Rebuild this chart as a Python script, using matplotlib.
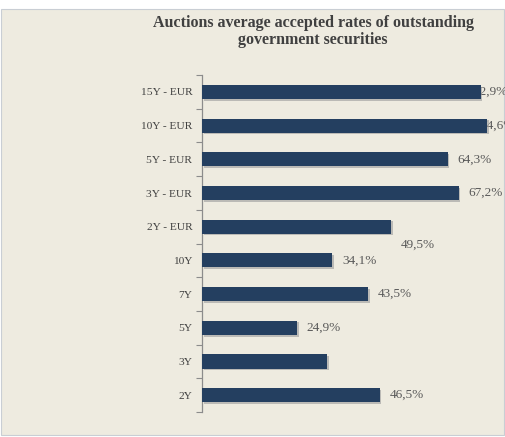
import matplotlib.pyplot as plt
import matplotlib.patheffects as pe
import numpy as np

# data (top to bottom)
categories = ['15Y - EUR', '10Y - EUR', '5Y - EUR', '3Y - EUR', '2Y - EUR',
              '10Y', '7Y', '5Y', '3Y', '2Y']
rates = [72.9, 74.6, 64.3, 67.2, 49.5, 34.1, 43.5, 24.9, 32.7, 46.5]
labels = ['72,9%', '74,6%', '64,3%', '67,2%', '49,5%',
          '34,1%', '43,5%', '24,9%', '', '46,5%']
title = 'Auctions average accepted rates of outstanding\ngovernment securities'

# label offsets in points (the source chart shifted a few of them)
lab_dx = [-5, -5, 7, 7, 7, 7, 7, 7, 7, 7]
lab_dy = [0, 0, 0, 0, -13, 0, 0, 0, 0, 0]

bg = '#EEEBE0'
bar_col = '#243F60'
txt_col = '#595959'

plt.rcParams['font.family'] = ['Liberation Serif', 'DejaVu Serif']

fig = plt.figure(figsize=(5.05, 4.37), dpi=100)
fig.patch.set_facecolor('white')

# chart panel background with thin border
panel = plt.Rectangle((0.001, 0.004), 0.998, 0.976, transform=fig.transFigure,
                      facecolor=bg, edgecolor='#C9CED4', lw=0.8, zorder=-10)
fig.patches.append(panel)

ax = fig.add_axes([0.4, 0.0572, 0.6, 0.771])
ax.set_facecolor('none')

y = np.arange(len(categories))
bars = ax.barh(y, rates, height=0.42, color=bar_col, zorder=3)
for b in bars:
    b.set_path_effects([pe.SimplePatchShadow(offset=(1.2, -1.2), shadow_rgbFace='#9A9A9A', alpha=0.6),
                        pe.Normal()])

for i, (v, t) in enumerate(zip(rates, labels)):
    if t:
        ax.annotate(t, (v, i), xytext=(lab_dx[i], lab_dy[i]), textcoords='offset points',
                    ha='left', va='center', fontsize=9.5, color=txt_col, zorder=2,
                    annotation_clip=False)

ax.set_yticks(y)
ax.set_yticklabels(categories, fontsize=8.2, color='#404040')
ax.set_yticks(np.arange(-0.5, len(categories), 1), minor=True)
ax.tick_params(axis='y', which='major', length=0, pad=7)
ax.tick_params(axis='y', which='minor', length=4, color='#8C8C8C', width=0.8)
ax.set_ylim(len(categories) - 0.5, -0.5)
ax.set_xlim(0, 79.3)
ax.set_xticks([])

for s in ['top', 'right', 'bottom']:
    ax.spines[s].set_visible(False)
ax.spines['left'].set_color('#8C8C8C')
ax.spines['left'].set_linewidth(0.9)

fig.text(0.62, 0.928, title, ha='center', va='center', fontsize=11.5,
         fontweight='bold', color='#404040', linespacing=1.15)

fig.savefig('out.png', dpi=100, facecolor=fig.get_facecolor())
